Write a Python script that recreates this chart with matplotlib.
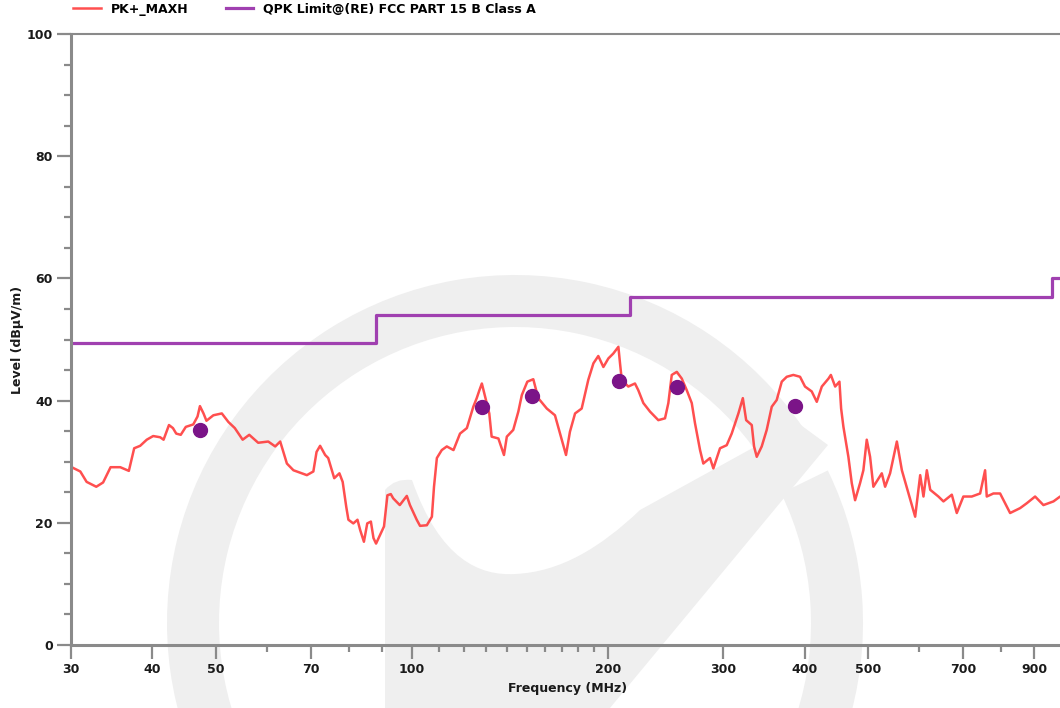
import matplotlib
matplotlib.use("Agg")
import matplotlib.pyplot as plt
from matplotlib.patches import Wedge, PathPatch
from matplotlib.path import Path
from matplotlib.ticker import NullFormatter

# measured trace PK+_MAXH (MHz, dBuV/m)
freq = [30.0, 30.2, 31.0, 31.7, 32.8, 33.6, 34.5, 35.7, 36.8, 37.5,
        38.3, 39.2, 40.1, 41.1, 41.6, 42.4, 43.0, 43.5, 44.2, 45.0,
        46.2, 46.9, 47.3, 47.9, 48.4, 49.6, 51.1, 52.3, 53.5, 55.0,
        56.3, 58.1, 60.2, 61.7, 62.8,
        64.3, 65.8, 69.0, 70.6, 71.4, 72.3, 73.6, 74.4, 76.0, 77.4,
        78.3, 79.3, 79.9, 81.3, 82.5, 83.3, 84.4, 85.4, 86.5, 87.3,
        88.1, 89.6, 90.6, 91.7, 92.8, 93.6, 95.8, 98.2, 99.3, 101.7,
        102.9, 105.4, 107.3, 108.1, 109.2, 111.1, 113.1, 115.8, 118.5, 121.4,
        124.2, 125.7, 126.9, 128.0, 129.5, 131.4, 132.5, 135.7, 138.4, 139.8,
        143.0, 145.6, 147.4, 150.3, 153.5, 156.2, 161.0, 165.7, 168.7, 172.3,
        174.7, 177.9, 182.1, 186.4, 189.8, 193.1, 196.6, 200.1, 203.6, 207.3,
        208.5, 209.8, 214.7, 219.8, 222.4, 226.4, 231.8, 238.7, 244.4, 247.3,
        250.3, 254.8, 259.3, 263.9, 268.6, 271.7, 276.6, 279.8, 286.5, 289.9,
        296.8, 303.9, 309.3, 316.7, 321.7, 325.5, 332.0, 334.7, 337.9, 343.9,
        350.0, 356.3, 362.6, 369.1, 375.7, 384.5, 393.7, 400.7, 410.3, 417.7,
        425.2, 435.3, 439.0, 445.7, 452.5, 455.2, 458.9, 467.0, 472.6, 478.2,
        486.7, 492.4, 498.3, 504.2, 510.1, 525.5, 531.7, 541.1, 554.2, 564.1,
        577.4, 591.2, 601.8, 608.8, 616.1, 623.5, 641.8, 653.3, 672.9, 684.8,
        700.9, 722.0, 743.7, 756.8, 761.3, 779.4, 798.0, 812.2, 826.7, 856.4,
        876.8, 903.0, 929.9, 963.4, 986.4, 1000.0]
level = [29.2, 29.0, 28.4, 26.7, 25.9, 26.6, 29.1, 29.1, 28.5, 32.2,
         32.6, 33.6, 34.2, 34.0, 33.6, 36.0, 35.5, 34.6, 34.4, 35.7,
         36.1, 37.4, 39.1, 37.9, 36.7, 37.6, 37.9, 36.5, 35.5, 33.6,
         34.4, 33.1, 33.3, 32.5, 33.3,
         29.7, 28.6, 27.8, 28.4, 31.6, 32.6, 31.1, 30.6, 27.3, 28.1,
         26.7, 22.6, 20.5, 19.9, 20.5, 18.8, 16.9, 19.9, 20.2, 17.5,
         16.6, 18.3, 19.4, 24.5, 24.7, 24.0, 22.9, 24.4, 22.9, 20.5,
         19.5, 19.6, 21.0, 25.9, 30.6, 31.9, 32.5, 31.9, 34.6, 35.5,
         39.0, 40.4, 41.7, 42.8, 40.6, 37.9, 34.1, 33.8, 31.1, 34.1,
         35.2, 38.2, 40.9, 43.1, 43.5, 40.4, 38.7, 37.6, 34.6, 31.1,
         34.9, 37.9, 38.7, 43.4, 46.1, 47.3, 45.5, 46.9, 47.7, 48.8,
         46.1, 43.4, 42.3, 42.8, 41.7, 39.6, 38.2, 36.8, 37.1, 39.6,
         44.2, 44.7, 43.6, 41.7, 39.6, 36.3, 31.9, 29.7, 30.6, 28.9,
         32.2, 32.7, 34.6, 37.9, 40.4, 36.8, 36.0, 32.5, 30.8, 32.5,
         35.2, 39.0, 40.1, 43.1, 43.9, 44.2, 43.9, 42.3, 41.5, 39.8,
         42.3, 43.6, 44.2, 42.3, 43.1, 38.7, 35.7, 30.8, 26.5, 23.7,
         26.5, 28.6, 33.6, 30.8, 25.9, 28.1, 25.9, 28.1, 33.3, 28.6,
         24.8, 21.0, 27.8, 24.3, 28.6, 25.4, 24.3, 23.5, 24.6, 21.6,
         24.3, 24.3, 24.8, 28.6, 24.3, 24.8, 24.8, 23.2, 21.6, 22.4,
         23.2, 24.3, 22.9, 23.5, 24.3, 23.8]

# QPK limit, FCC part 15 B class A (step edges)
limit_freq = [30, 88, 216, 960, 1000]
limit_level = [49.5, 54.0, 56.9, 60.0, 60.0]

# final QPK measurement points
qpk_freq = [47.3, 128.0, 152.8, 207.7, 255.0, 387.0]
qpk_level = [35.2, 39.0, 40.8, 43.2, 42.2, 39.1]

xticks = [30, 40, 50, 70, 100, 200, 300, 400, 500, 700, 900]
xminor = [60, 80, 90, 110, 120, 130, 140, 150, 160, 170, 180, 190, 600, 800]

W, H = 1060, 708
fig = plt.figure(figsize=(W / 100, H / 100), dpi=100)

# background watermark (pixel space)
bg = fig.add_axes([0, 0, 1, 1], zorder=0)
bg.set_xlim(0, W)
bg.set_ylim(H, 0)
bg.axis("off")
wm = "#efefef"
bg.add_patch(Wedge((515, 623), 348, -26, 326, width=52, color=wm, lw=0))
check = Path([(385, 708), (385, 490), (395, 478), (412, 480),
              (440, 560), (480, 576), (515, 574),
              (560, 572), (600, 548), (640, 510),
              (798, 423), (828, 445), (610, 708), (385, 708)],
             [Path.MOVETO, Path.LINETO, Path.CURVE3, Path.CURVE3,
              Path.CURVE4, Path.CURVE4, Path.CURVE4,
              Path.CURVE4, Path.CURVE4, Path.CURVE4,
              Path.LINETO, Path.LINETO, Path.LINETO, Path.CLOSEPOLY])
bg.add_patch(PathPatch(check, color=wm, lw=0))

ax = fig.add_axes([71 / W, 63 / H, (1064 - 71) / W, (645 - 34) / H], zorder=1)
ax.set_facecolor("none")

red_line, = ax.plot(freq, level, color="#ff3030", lw=1.8, alpha=0.85, label="PK+_MAXH")
lim_line, = ax.step(limit_freq, limit_level, where="post", color="#a040b0", lw=2.3,
                    label="QPK Limit@(RE) FCC PART 15 B Class A")
ax.plot(qpk_freq, qpk_level, "o", color="#7b1488", ms=10, mec="#7b1488", zorder=5)

ax.set_xscale("log")
ax.set_xlim(30, 1000)
ax.set_ylim(0, 100)
ax.set_xticks(xticks)
ax.set_xticklabels([str(t) for t in xticks])
ax.set_xticks(xminor, minor=True)
ax.xaxis.set_minor_formatter(NullFormatter())
ax.set_yticks(range(0, 101, 20))
ax.set_yticks(range(0, 101, 5), minor=True)

gray = "#8a8a8a"
for side in ["left", "bottom"]:
    ax.spines[side].set_color(gray)
    ax.spines[side].set_linewidth(2.2)
ax.spines["top"].set_color(gray)
ax.spines["top"].set_linewidth(1.5)
ax.spines["right"].set_visible(False)
ax.tick_params(which="major", length=10, width=1.6, color=gray, labelsize=9, pad=3)
ax.tick_params(which="minor", length=5, width=1.6, color=gray)
for lab in ax.get_xticklabels() + ax.get_yticklabels():
    lab.set_fontweight("bold")
    lab.set_color("#1a1a1a")

ax.set_xlabel("Frequency (MHz)", fontsize=9, fontweight="bold", color="#1a1a1a", labelpad=4)
ax.set_ylabel("Level (dBµV/m)", fontsize=9, fontweight="bold", color="#1a1a1a", labelpad=2)

fig.legend(handles=[red_line, lim_line], loc="upper left", bbox_to_anchor=(62 / W, 1.012),
           ncol=2, frameon=False, handlelength=2.2, columnspacing=3.0,
           prop={"size": 9, "weight": "bold"})

fig.savefig("out.png", dpi=100)
